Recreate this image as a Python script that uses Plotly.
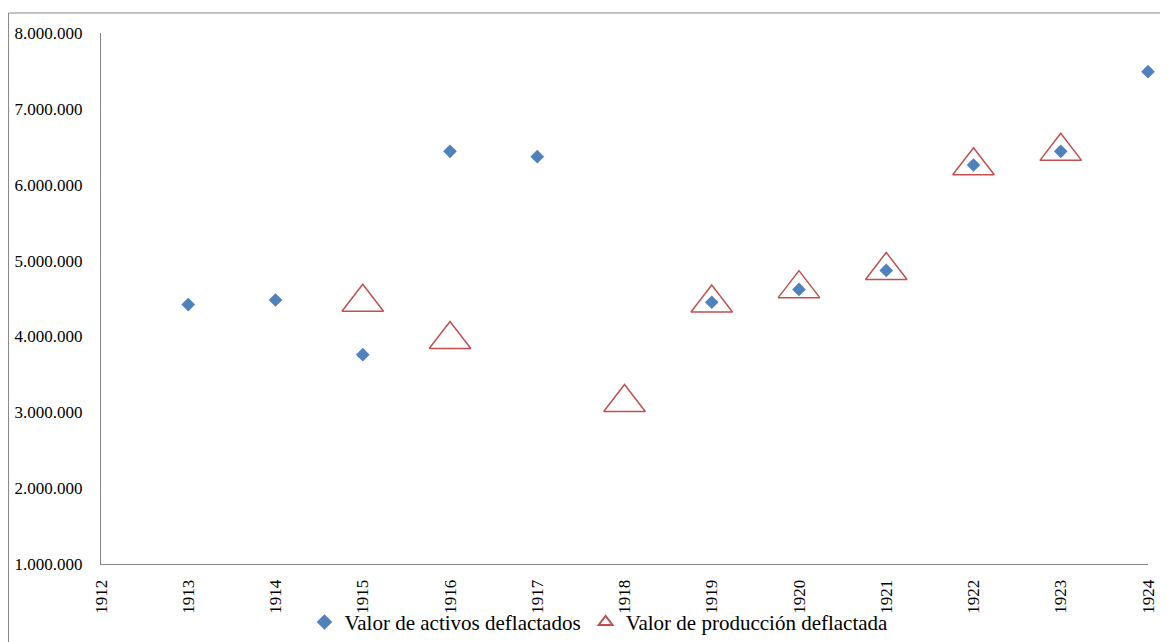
import plotly.graph_objects as go

years_activos = [1913, 1914, 1915, 1916, 1917, 1919, 1920, 1921, 1922, 1923, 1924]
valor_activos = [4420000, 4480000, 3760000, 6440000, 6370000, 4450000, 4620000, 4870000, 6260000, 6440000, 7490000]

years_produccion = [1915, 1916, 1918, 1919, 1920, 1921, 1922, 1923]
valor_produccion = [4450000, 3960000, 3130000, 4440000, 4630000, 4870000, 6250000, 6440000]

year_ticks = list(range(1912, 1925))

fig = go.Figure()
fig.add_trace(go.Scatter(
    x=years_activos, y=valor_activos, mode="markers",
    name="Valor de activos deflactados",
    marker=dict(symbol="diamond", size=10.5, color="#4F81BD", line=dict(width=0)),
    cliponaxis=False,
))
fig.add_trace(go.Scatter(
    x=years_produccion, y=valor_produccion, mode="markers",
    name="Valor de producción deflactada",
    marker=dict(symbol="triangle-up-open", size=36, color="#C0504D", line=dict(width=1.5, color="#C0504D")),
    cliponaxis=False,
))

font_family = "Liberation Serif, Times New Roman, serif"
fig.update_layout(
    width=1152, height=634,
    margin=dict(l=93, r=12, t=25, b=78, autoexpand=False),
    paper_bgcolor="white", plot_bgcolor="white",
    separators=",.",
    font=dict(family=font_family, size=17, color="black"),
    showlegend=True,
    legend=dict(orientation="h", x=0.4756, xanchor="center", yref="container",
                y=0.031, yanchor="middle", bgcolor="rgba(0,0,0,0)",
                font=dict(family=font_family, size=21, color="black"),
                itemsizing="constant", itemwidth=30, tracegroupgap=0),
    xaxis=dict(range=[1912, 1924], tickmode="array", tickvals=year_ticks,
               ticktext=[str(y) for y in year_ticks], tickangle=-90,
               showgrid=False, zeroline=False, showline=True, linecolor="#868686",
               linewidth=1, ticks="", ticklabelstandoff=8, automargin=False,
               ticklabeloverflow="allow",
               tickfont=dict(family=font_family, size=17, color="black")),
    yaxis=dict(range=[1000000, 8000000], dtick=1000000, tickformat=",.0f",
               showgrid=False, zeroline=False, showline=True, linecolor="#868686",
               linewidth=1, ticks="", ticklabelstandoff=14, automargin=False,
               tickfont=dict(family=font_family, size=17, color="black")),
    shapes=[dict(type="rect", xref="paper", yref="paper",
                 x0=-0.0883, x1=1.2, y0=-0.3, y1=1.0377,
                 line=dict(color="#868686", width=1), fillcolor="rgba(0,0,0,0)",
                 layer="below")],
)

fig.write_html("out.html")
